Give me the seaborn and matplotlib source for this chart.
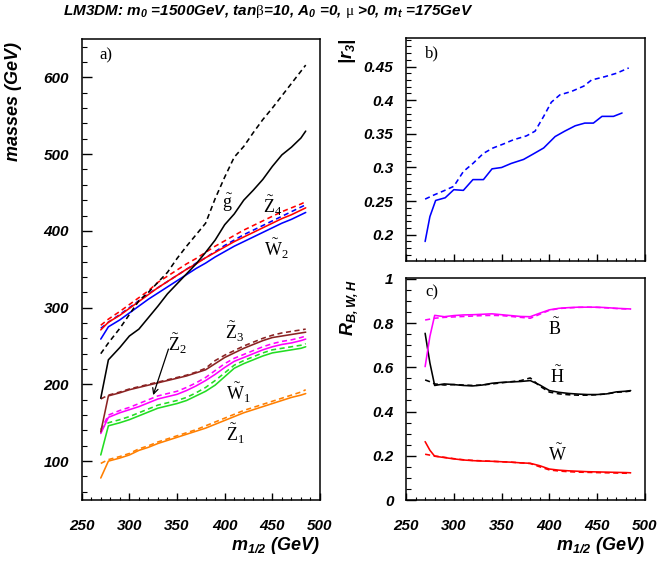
import numpy as np
import pandas as pd
import matplotlib
matplotlib.use("Agg")
import matplotlib.pyplot as plt
import seaborn as sns
from matplotlib.ticker import MultipleLocator, FuncFormatter

# ---------------- data ----------------
m12 = [270, 278, 290, 300, 310, 320, 330, 340, 350, 360, 370, 380, 390, 400,
       410, 420, 430, 440, 450, 460, 470, 480, 485]

gl_solid = [182, 232, 248, 263, 272, 287, 302, 318, 331, 344, 357, 372, 388, 408,
            422, 440, 453, 467, 484, 499, 509, 521, 530]
gl_dash = [240, 254, 273, 291, 309, 320, 333, 346, 364, 380, 395, 410, 442, 470,
           496, 510, 528, 545, 560, 576, 592, 608, 616]
w2_solid = [259, 275, 284, 293, 302, 311, 319, 327, 335, 343, 351, 358, 366, 373,
            380, 386, 392, 398, 404, 410, 415, 421, 424]
w2_dash = [273, 281, 291, 300, 309, 318, 326, 334, 342, 350, 358, 365, 373, 381,
           388, 395, 401, 407, 413, 419, 425, 431, 434]
z4_solid = [271, 281, 290, 299, 308, 317, 326, 334, 342, 350, 357, 365, 372, 379,
            386, 392, 398, 404, 410, 416, 421, 427, 430]
z4_dash = [277, 285, 295, 304, 313, 322, 333, 341, 349, 357, 364, 372, 380, 387,
           394, 401, 407, 413, 419, 425, 430, 435, 438]
z3_solid = [138, 185, 189, 193, 196, 199, 202, 205, 208, 211, 215, 219, 227, 235,
            241, 247, 252, 257, 261, 263, 265, 267, 268]
z3_dash = [181, 186, 190, 194, 197, 200, 203, 206, 209, 212, 216, 221, 231, 238,
           244, 250, 255, 260, 264, 267, 269, 271, 272]
z2_solid = [136, 157, 163, 167, 171, 176, 181, 184, 187, 192, 198, 205, 213, 222,
            230, 235, 240, 245, 249, 252, 254, 257, 259]
z2_dash = [140, 160, 166, 170, 175, 180, 185, 188, 191, 196, 202, 209, 218, 227,
           234, 239, 244, 249, 253, 256, 258, 261, 263]
w1_solid = [108, 146, 150, 154, 159, 164, 169, 172, 175, 179, 185, 191, 199, 210,
            221, 227, 232, 237, 241, 243, 245, 247, 249]
w1_dash = [142, 150, 154, 158, 163, 168, 173, 176, 179, 183, 189, 196, 205, 215,
           225, 231, 236, 241, 245, 247, 249, 251, 253]
z1_solid = [78, 100, 104, 108, 114, 118, 123, 127, 131, 135, 139, 143, 148, 153,
            158, 163, 167, 171, 175, 179, 183, 186, 188]
z1_dash = [97, 102, 106, 110, 116, 120, 125, 129, 133, 137, 141, 146, 151, 156,
           161, 166, 170, 174, 178, 182, 186, 190, 193]

# panel b
m12_r3_solid = [270, 275, 281, 291, 300, 310, 320, 331, 340, 350, 360, 373, 383, 394,
                406, 416, 427, 437, 446, 455, 467, 476]
r3_solid = [0.190, 0.227, 0.251, 0.255, 0.267, 0.266, 0.282, 0.282, 0.298, 0.300,
            0.306, 0.312, 0.320, 0.329, 0.346, 0.354, 0.362, 0.366, 0.366, 0.376,
            0.376, 0.381]
m12_r3_dash = [270, 279, 289, 300, 310, 320, 331, 341, 352, 362, 376, 385, 394, 402,
               411, 423, 436, 444, 458, 470, 483]
r3_dash = [0.253, 0.259, 0.265, 0.272, 0.294, 0.306, 0.321, 0.329, 0.335, 0.341,
           0.347, 0.354, 0.376, 0.397, 0.408, 0.413, 0.421, 0.430, 0.435, 0.440, 0.448]

# panel c
m12_c = [270, 275, 280, 290, 300, 310, 320, 330, 340, 350, 360, 370, 380, 390, 400,
         410, 420, 430, 440, 450, 460, 470, 480, 485]
rb_solid = [0.603, 0.740, 0.835, 0.829, 0.834, 0.837, 0.838, 0.840, 0.842, 0.838,
            0.834, 0.830, 0.829, 0.845, 0.860, 0.867, 0.870, 0.872, 0.872, 0.872,
            0.870, 0.867, 0.865, 0.864]
rb_dash = [0.814, 0.818, 0.822, 0.826, 0.828, 0.830, 0.832, 0.834, 0.835, 0.834,
           0.830, 0.826, 0.822, 0.840, 0.858, 0.866, 0.869, 0.871, 0.872, 0.871,
           0.869, 0.866, 0.864, 0.863]
rh_solid = [0.754, 0.620, 0.518, 0.525, 0.522, 0.518, 0.516, 0.520, 0.528, 0.532,
            0.534, 0.536, 0.540, 0.520, 0.495, 0.487, 0.482, 0.479, 0.477, 0.477,
            0.480, 0.489, 0.492, 0.495]
rh_dash = [0.543, 0.535, 0.525, 0.520, 0.522, 0.520, 0.518, 0.520, 0.525, 0.530,
           0.535, 0.540, 0.552, 0.515, 0.488, 0.480, 0.476, 0.474, 0.474, 0.476,
           0.480, 0.487, 0.490, 0.493]
rw_solid = [0.264, 0.225, 0.198, 0.192, 0.186, 0.181, 0.178, 0.176, 0.175, 0.173,
            0.171, 0.168, 0.166, 0.155, 0.140, 0.135, 0.132, 0.130, 0.128, 0.127,
            0.126, 0.125, 0.124, 0.123]
rw_dash = [0.207, 0.203, 0.199, 0.193, 0.187, 0.182, 0.179, 0.177, 0.175, 0.173,
           0.171, 0.168, 0.165, 0.150, 0.136, 0.131, 0.128, 0.126, 0.125, 0.124,
           0.123, 0.122, 0.121, 0.121]

# ---------------- style ----------------
sns.set_style("ticks")
plt.rcParams.update({
    "font.family": ["Liberation Sans", "DejaVu Sans"],
    "font.weight": "bold",
    "font.style": "italic",
    "mathtext.fontset": "custom",
    "mathtext.rm": "Liberation Serif:style=normal:weight=normal",
    "mathtext.it": "Liberation Sans:italic:bold",
    "mathtext.bf": "Liberation Sans:italic:bold",
    "mathtext.sf": "Liberation Sans:italic:bold",
    "axes.edgecolor": "black",
    "axes.linewidth": 1.1,
    "text.color": "black",
    "xtick.color": "black",
    "ytick.color": "black",
})

RED = "#ff0000"
BLUE = "#0000ff"
MAG = "#ff00ff"
GRN = "#22dd22"
ORA = "#ff7f00"
BRN = "#8b2323"
BLK = "black"
DASH = (0, (3.2, 2.2))
LW = 1.15

W, H = 658, 565
fig = plt.figure(figsize=(W / 100, H / 100), dpi=100)


def frac(x0, y0, x1, y1):
    return [x0 / W, 1 - y1 / H, (x1 - x0) / W, (y1 - y0) / H]


ax_a = fig.add_axes(frac(81.7, 39, 320, 499.5))
ax_b = fig.add_axes(frac(406, 38, 645, 261))
ax_c = fig.add_axes(frac(406, 278, 645, 500))


def line(ax, x, y, color, dashed=False):
    sns.lineplot(x=x, y=y, ax=ax, color=color, linewidth=LW,
                 linestyle=DASH if dashed else "-", estimator=None, sort=False)


# panel a
for ys, yd, c in [(z1_solid, z1_dash, ORA), (w1_solid, w1_dash, GRN),
                  (z2_solid, z2_dash, MAG), (z3_solid, z3_dash, BRN),
                  (w2_solid, w2_dash, BLUE), (z4_solid, z4_dash, RED),
                  (gl_solid, gl_dash, BLK)]:
    line(ax_a, m12, yd, c, True)
    line(ax_a, m12, ys, c, False)

# panel b
line(ax_b, m12_r3_dash, r3_dash, BLUE, True)
line(ax_b, m12_r3_solid, r3_solid, BLUE, False)

# panel c
for ys, yd, c in [(rw_solid, rw_dash, RED), (rh_solid, rh_dash, BLK),
                  (rb_solid, rb_dash, MAG)]:
    line(ax_c, m12_c, yd, c, True)
    line(ax_c, m12_c, ys, c, False)

# axes setup
fmt = FuncFormatter(lambda v, p: f"{v:g}")
for ax in (ax_a, ax_b, ax_c):
    ax.set_xlim(250, 500)
    ax.xaxis.set_major_locator(MultipleLocator(50))
    ax.xaxis.set_minor_locator(MultipleLocator(10))
    ax.tick_params(axis="x", which="major", direction="in", length=5, width=1.0,
                   top=False, pad=14, labelsize=11)
    ax.tick_params(axis="x", which="minor", direction="in", length=2.5, width=0.8,
                   top=False)
    ax.tick_params(axis="y", which="major", direction="in", length=7, width=1.0,
                   right=False, pad=9, labelsize=11)
    ax.tick_params(axis="y", which="minor", direction="in", length=3.5, width=0.8,
                   right=False)
    ax.yaxis.set_major_formatter(fmt)
    ax.set_xlabel("")
    ax.set_ylabel("")
    for s in ax.spines.values():
        s.set_visible(True)
        s.set_linewidth(1.1)

ax_a.set_ylim(50, 650)
ax_a.yaxis.set_major_locator(MultipleLocator(100))
ax_a.yaxis.set_minor_locator(MultipleLocator(20))

ax_b.set_ylim(0.161, 0.4925)
ax_b.yaxis.set_major_locator(MultipleLocator(0.05))
ax_b.yaxis.set_minor_locator(MultipleLocator(0.01))
ax_b.tick_params(axis="x", labelbottom=False)

ax_c.set_ylim(0, 1.004)
ax_c.yaxis.set_major_locator(MultipleLocator(0.2))
ax_c.yaxis.set_minor_locator(MultipleLocator(0.05))

# panel letters / particle labels
serif = dict(family="Liberation Serif", style="normal", weight="normal")
ax_a.text(269, 629, "a)", fontsize=12, va="center", ha="left", **serif)
ax_b.text(270, 0.469, "b)", fontsize=12, va="center", ha="left", **serif)
ax_c.text(270, 0.939, "c)", fontsize=12, va="center", ha="left", **serif)

lab = dict(fontsize=13, va="center", ha="left")
ax_a.text(397, 437, r"$\tilde{\mathrm{g}}$", **lab)
ax_a.text(440, 433, r"$\tilde{\mathrm{Z}}_{\mathrm{4}}$", **lab)
ax_a.text(441.5, 376, r"$\tilde{\mathrm{W}}_{\mathrm{2}}$", **lab)
ax_a.text(400.5, 268, r"$\tilde{\mathrm{Z}}_{\mathrm{3}}$", **lab)
ax_a.text(340.5, 253, r"$\tilde{\mathrm{Z}}_{\mathrm{2}}$", **lab)
ax_a.text(401, 189, r"$\tilde{\mathrm{W}}_{\mathrm{1}}$", **lab)
ax_a.text(401, 135, r"$\tilde{\mathrm{Z}}_{\mathrm{1}}$", **lab)
ax_a.annotate("", xy=(325, 186), xytext=(341, 246),
              arrowprops=dict(arrowstyle="->", color="black", lw=0.9,
                              shrinkA=0, shrinkB=0))

ax_c.text(399, 0.777, r"$\tilde{\mathrm{B}}$", **lab)
ax_c.text(401, 0.56, r"$\tilde{\mathrm{H}}$", **lab)
ax_c.text(399, 0.205, r"$\tilde{\mathrm{W}}$", **lab)

# axis titles
fig.text(14 / W, 1 - 42 / H, "masses (GeV)", rotation=90, ha="center", va="top",
         fontsize=13)
fig.text(347 / W, 1 - 38 / H, r"|r$_{\mathbf{3}}$|", rotation=90, ha="center",
         va="top", fontsize=13)
fig.text(349 / W, 1 - 279 / H, r"R$_{\mathbf{B,W,H}}$", rotation=90, ha="center",
         va="top", fontsize=13)
fig.text(320 / W, 1 - 546 / H, r"m$_{\mathbf{1/2}}$ (GeV)", ha="right",
         va="center", fontsize=13)
fig.text(645 / W, 1 - 546 / H, r"m$_{\mathbf{1/2}}$ (GeV)", ha="right",
         va="center", fontsize=13)

# title
fig.text(268 / W, 1 - 12 / H,
         r"LM3DM: m$_{\mathbf{0}}$ =1500GeV, tan$\mathrm{β}$=10, A$_{\mathbf{0}}$ =0, "
         r"$\mathrm{μ}$ >0, m$_{\mathbf{t}}$ =175GeV",
         ha="center", va="center", fontsize=11)

fig.savefig("out.png", dpi=100)
